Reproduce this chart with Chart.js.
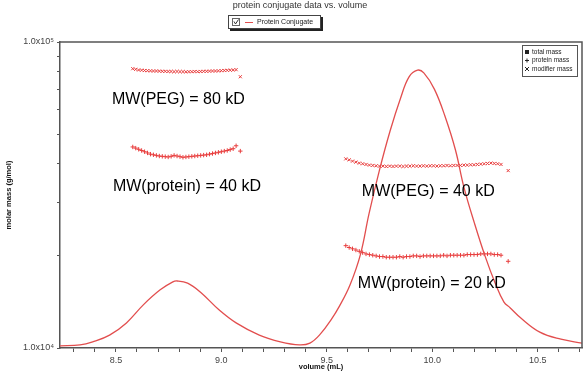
<!DOCTYPE html>
<html>
<head>
<meta charset="utf-8">
<title>protein conjugate data vs. volume</title>
<script src="https://cdn.jsdelivr.net/npm/chart.js@4.4.0/dist/chart.umd.min.js"></script>
<style>
    html, body { margin: 0; padding: 0; background: #ffffff; }
    canvas { display: block; }
</style>
</head>
<body>
<canvas id="conjugateChart" width="586" height="374"></canvas>
<script>
// ============================================================================
// Data
// ============================================================================

// Slices across the first (early eluting) peak
const volPeak1 = [8.580, 8.594, 8.608, 8.622, 8.636, 8.650, 8.664, 8.678, 8.692, 8.706,
    8.720, 8.734, 8.748, 8.762, 8.776, 8.790, 8.804, 8.818, 8.832, 8.846,
    8.860, 8.874, 8.888, 8.902, 8.916, 8.930, 8.944, 8.958, 8.972, 8.986,
    9.000, 9.014, 9.028, 9.042, 9.056, 9.070, 9.090];
const modifierPeak1 = [81800, 81400, 81000, 80900, 80700, 80600, 80500, 80400, 80400, 80300,
    80200, 80200, 80100, 80100, 80000, 80100, 80000, 80000, 79900, 80000,
    80000, 80100, 80000, 80100, 80200, 80200, 80300, 80400, 80400, 80500,
    80600, 80700, 80800, 80900, 81000, 81200, 77000];
const proteinPeak1 = [45400, 45000, 44600, 44200, 43800, 43400, 43000, 42800, 42600, 42400,
    42300, 42200, 42100, 42300, 42600, 42400, 42200, 42000, 42100, 42200,
    42300, 42400, 42500, 42600, 42700, 42800, 43000, 43200, 43400, 43600,
    43800, 44000, 44200, 44500, 44800, 45800, 44000];

// Slices across the second peak
const volPeak2 = [9.590, 9.606, 9.622, 9.638, 9.654, 9.670, 9.686, 9.702, 9.718, 9.734,
    9.750, 9.766, 9.782, 9.798, 9.814, 9.830, 9.846, 9.862, 9.878, 9.894,
    9.910, 9.926, 9.942, 9.958, 9.974, 9.990, 10.006, 10.022, 10.038, 10.054,
    10.070, 10.086, 10.102, 10.118, 10.134, 10.150, 10.166, 10.182, 10.198, 10.214,
    10.230, 10.246, 10.262, 10.278, 10.294, 10.310, 10.326, 10.360];
const modifierPeak2 = [41500, 41200, 40800, 40500, 40200, 40000, 39800, 39600, 39500, 39400,
    39300, 39300, 39200, 39300, 39200, 39300, 39300, 39200, 39300, 39300,
    39400, 39300, 39300, 39400, 39300, 39400, 39400, 39300, 39400, 39400,
    39500, 39400, 39500, 39500, 39500, 39600, 39600, 39700, 39700, 39800,
    39900, 40000, 40100, 40200, 40100, 40000, 39800, 38000];
const proteinPeak2 = [21600, 21300, 21100, 20900, 20700, 20500, 20300, 20200, 20100, 20000,
    19900, 19900, 19800, 19800, 19800, 19800, 19900, 19800, 19900, 19900,
    20000, 20000, 19900, 20000, 20000, 20000, 20000, 20000, 20000, 20100,
    20000, 20100, 20100, 20100, 20100, 20100, 20200, 20200, 20200, 20200,
    20300, 20300, 20300, 20300, 20200, 20200, 20100, 19200];

// Concentration trace (relative units)
const signalVolume = [8.235, 8.33, 8.39, 8.47, 8.55, 8.63, 8.71, 8.77, 8.79, 8.84,
    8.90, 8.99, 9.07, 9.18, 9.28, 9.37, 9.42, 9.47, 9.52, 9.56,
    9.61, 9.66, 9.70, 9.75, 9.80, 9.85, 9.89, 9.93, 9.96, 10.01,
    10.06, 10.11, 10.15, 10.20, 10.25, 10.30, 10.34, 10.37, 10.42, 10.51,
    10.61, 10.71];
const signalLevel = [0.007, 0.010, 0.020, 0.042, 0.082, 0.141, 0.190, 0.216, 0.219, 0.212,
    0.183, 0.124, 0.082, 0.042, 0.020, 0.010, 0.016, 0.046, 0.092, 0.137,
    0.206, 0.307, 0.438, 0.582, 0.709, 0.817, 0.886, 0.908, 0.899, 0.846,
    0.758, 0.647, 0.526, 0.408, 0.301, 0.209, 0.150, 0.131, 0.098, 0.052,
    0.029, 0.016];

// Axes
const xTicks = [8.3, 8.4, 8.5, 8.6, 8.7, 8.8, 8.9, 9.0, 9.1, 9.2, 9.3, 9.4, 9.5,
    9.6, 9.7, 9.8, 9.9, 10.0, 10.1, 10.2, 10.3, 10.4, 10.5, 10.6, 10.7];
const xTickLabels = ['8.5', '9.0', '9.5', '10.0', '10.5'];
const yTicks = [10000, 20000, 30000, 40000, 50000, 60000, 70000, 80000, 90000, 100000];
const yTickLabels = { 10000: '1.0x10\u2074', 100000: '1.0x10\u2075' };

// Text written on the plot
const noteTexts = ['MW(PEG) = 80 kD', 'MW(protein) = 40 kD', 'MW(PEG) = 40 kD', 'MW(protein) = 20 kD'];
const noteVolume = [8.481, 8.486, 9.666, 9.647];
const noteMass = [64600, 33600, 32400, 16200];

const RED = 'rgb(232, 62, 62)';
const LINE_RED = 'rgb(226, 78, 78)';
const AXIS = '#555555';
const FONT = "'Liberation Sans', Arial, sans-serif";

/**
 * Zip two arrays into scatter points
 * @param {Array} xs - x values
 * @param {Array} ys - y values
 * @returns {Array} points
 */
function toPoints(xs, ys) {
    return xs.map((x, i) => ({ x, y: ys[i] }));
}

// ============================================================================
// Decorations: frame, title, legends, notes, axis titles
// ============================================================================

const decorations = {
    id: 'decorations',
    afterDraw(chart) {
        const { ctx, chartArea: a, scales } = chart;
        ctx.save();

        // top/right frame lines
        ctx.strokeStyle = AXIS;
        ctx.lineWidth = 1.5;
        ctx.beginPath();
        ctx.moveTo(a.left, a.top);
        ctx.lineTo(a.right, a.top);
        ctx.lineTo(a.right, a.bottom);
        ctx.stroke();

        // title
        ctx.fillStyle = '#333';
        ctx.font = '9px ' + FONT;
        ctx.textAlign = 'center';
        ctx.textBaseline = 'middle';
        ctx.fillText('protein conjugate data vs. volume', 300, 6);

        // top legend box with shadow
        ctx.fillStyle = '#222';
        ctx.fillRect(230, 17, 93, 14);
        ctx.fillStyle = '#fff';
        ctx.fillRect(228, 15, 93, 14);
        ctx.strokeStyle = '#444';
        ctx.lineWidth = 1;
        ctx.strokeRect(228.5, 15.5, 92, 13);
        ctx.strokeStyle = '#666';
        ctx.strokeRect(232.5, 18.5, 7, 7);
        ctx.strokeStyle = '#333';
        ctx.beginPath();
        ctx.moveTo(234, 21.5);
        ctx.lineTo(235.5, 24);
        ctx.lineTo(238.5, 19.5);
        ctx.stroke();
        ctx.strokeStyle = LINE_RED;
        ctx.beginPath();
        ctx.moveTo(245, 22.5);
        ctx.lineTo(253, 22.5);
        ctx.stroke();
        ctx.fillStyle = '#222';
        ctx.font = '7px ' + FONT;
        ctx.textAlign = 'left';
        ctx.fillText('Protein Conjugate', 257, 22.5);

        // inner legend box
        ctx.fillStyle = '#fff';
        ctx.fillRect(522, 45, 56, 32);
        ctx.strokeStyle = '#555';
        ctx.strokeRect(522.5, 45.5, 55, 31);
        ctx.font = '6.5px ' + FONT;
        ctx.fillStyle = '#222';
        const rows = ['total mass', 'protein mass', 'modifier mass'];
        rows.forEach((label, i) => {
            const y = 52 + i * 8.5;
            ctx.fillText(label, 532, y);
        });
        ctx.fillRect(525, 50, 4, 4);
        ctx.strokeStyle = '#222';
        ctx.beginPath();
        ctx.moveTo(525, 60.5); ctx.lineTo(529, 60.5);
        ctx.moveTo(527, 58.5); ctx.lineTo(527, 62.5);
        ctx.moveTo(525, 67); ctx.lineTo(529, 71);
        ctx.moveTo(529, 67); ctx.lineTo(525, 71);
        ctx.stroke();

        // notes placed in data coordinates
        ctx.fillStyle = '#000';
        ctx.font = '16px ' + FONT;
        noteTexts.forEach((text, i) => {
            const x = scales.x.getPixelForValue(noteVolume[i]);
            const y = scales.y.getPixelForValue(noteMass[i]);
            ctx.fillText(text, x, y);
        });

        // axis titles
        ctx.fillStyle = '#111';
        ctx.font = 'bold 7.5px ' + FONT;
        ctx.textAlign = 'center';
        ctx.fillText('volume (mL)', (a.left + a.right) / 2, 367);
        ctx.translate(9, (a.top + a.bottom) / 2);
        ctx.rotate(-Math.PI / 2);
        ctx.fillText('molar mass (g/mol)', 0, 0);

        ctx.restore();
    }
};

// ============================================================================
// Chart
// ============================================================================

const markerStyle = {
    type: 'scatter',
    yAxisID: 'y',
    showLine: false,
    borderColor: RED,
    backgroundColor: RED,
    borderWidth: 1,
    pointRadius: 2.2,
    pointHoverRadius: 2.2
};

new Chart(document.getElementById('conjugateChart'), {
    type: 'scatter',
    data: {
        datasets: [
            {
                label: 'Protein Conjugate',
                type: 'line',
                yAxisID: 'ySignal',
                data: toPoints(signalVolume, signalLevel),
                borderColor: LINE_RED,
                borderWidth: 1.3,
                pointRadius: 0,
                tension: 0.4,
                fill: false
            },
            { ...markerStyle, label: 'modifier mass', pointStyle: 'crossRot', data: toPoints(volPeak1, modifierPeak1) },
            { ...markerStyle, label: 'protein mass', pointStyle: 'cross', data: toPoints(volPeak1, proteinPeak1) },
            { ...markerStyle, label: 'modifier mass', pointStyle: 'crossRot', data: toPoints(volPeak2, modifierPeak2) },
            { ...markerStyle, label: 'protein mass', pointStyle: 'cross', data: toPoints(volPeak2, proteinPeak2) }
        ]
    },
    options: {
        responsive: false,
        animation: false,
        layout: { padding: { top: 42, right: 4, left: 0, bottom: 0 } },
        plugins: {
            legend: { display: false },
            title: { display: false },
            tooltip: { enabled: false }
        },
        scales: {
            x: {
                type: 'linear',
                min: 8.235,
                max: 10.71,
                afterBuildTicks: (axis) => { axis.ticks = xTicks.map(v => ({ value: v })); },
                afterFit: (axis) => { axis.height = 26; },
                grid: {
                    drawOnChartArea: false,
                    tickLength: 4,
                    color: AXIS,
                    tickColor: AXIS
                },
                border: { color: AXIS, width: 1.5 },
                ticks: {
                    autoSkip: false,
                    maxRotation: 0,
                    padding: 3,
                    color: '#444',
                    font: { family: FONT, size: 9 },
                    callback: (v) => {
                        const label = Number(v).toFixed(1);
                        return xTickLabels.includes(label) ? label : '';
                    }
                }
            },
            y: {
                type: 'logarithmic',
                min: 10000,
                max: 100000,
                afterBuildTicks: (axis) => { axis.ticks = yTicks.map(v => ({ value: v })); },
                afterFit: (axis) => { axis.width = 60; },
                grid: {
                    drawOnChartArea: false,
                    tickLength: 3,
                    color: AXIS,
                    tickColor: AXIS
                },
                border: { color: AXIS, width: 1.5 },
                ticks: {
                    autoSkip: false,
                    padding: 3,
                    color: '#444',
                    font: { family: FONT, size: 9 },
                    callback: (v) => yTickLabels[v] || ''
                }
            },
            ySignal: {
                type: 'linear',
                display: false,
                min: 0,
                max: 1
            }
        }
    },
    plugins: [decorations]
});
</script>
</body>
</html>
